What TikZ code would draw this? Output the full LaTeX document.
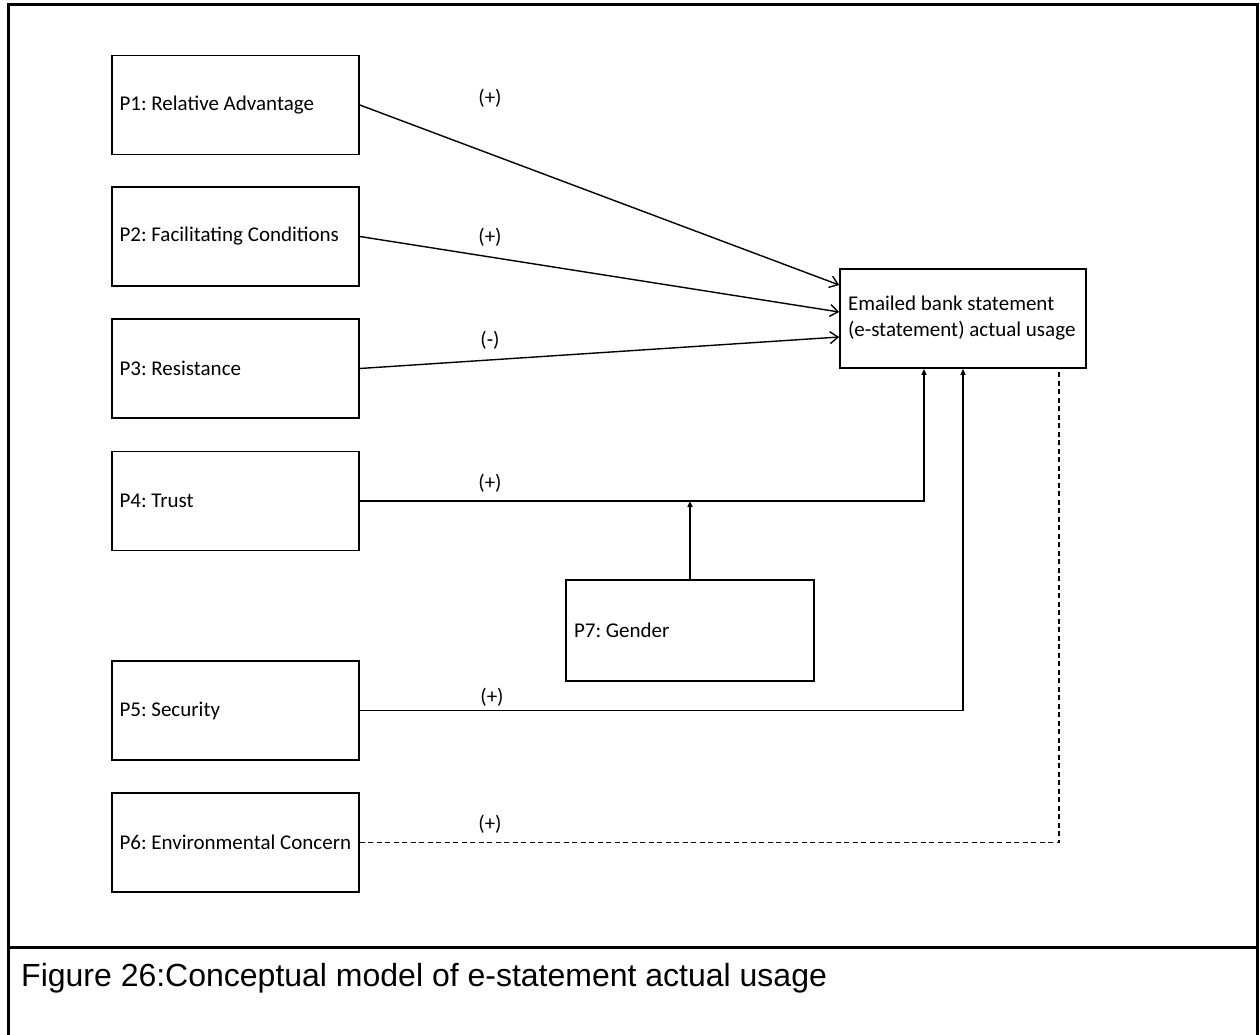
\documentclass[tikz,border=0pt]{standalone}
\usepackage{fontspec}
\setmainfont{Carlito}
\newfontfamily\capfont{Liberation Sans}
\usetikzlibrary{arrows.meta,calc}
\frenchspacing
% left-aligned single line of fixed width inside a box
\newcommand\boxline[2][232pt]{\makebox[#1][l]{#2}}
\begin{document}
\begin{tikzpicture}[x=1pt,y=-1pt,
  pbox/.style={draw, line width=1.7pt, minimum width=247pt, minimum height=99pt,
    inner xsep=7pt, align=left, font=\fontsize{21}{26}\selectfont},
  link/.style={line width=1.4pt},
  openhead/.style={link, -{Straight Barb[length=8pt,width=12pt,line width=1.4pt]}},
  solidhead/.style={link, -{Triangle[length=6pt,width=5pt]}},
  sign/.style={font=\fontsize{21}{24}\selectfont, inner sep=0pt},
  frame/.style={line width=3pt}]
  \useasboundingbox (0,0) rectangle (1260,1035);

  % outer frame and caption separator
  \draw[frame] (8,1035) -- (8,5) -- (1257.5,5) -- (1257.5,1035);
  \draw[frame] (8,947) -- (1257.5,947);

  % predictor boxes
  \node[pbox] (p1) at (235.5,105)   {\boxline{P1: Relative Advantage}};
  \node[pbox] (p2) at (235.5,236.5) {\boxline{P2: Facilitating Conditions}};
  \node[pbox] (p3) at (235.5,368.5) {\boxline{P3: Resistance}};
  \node[pbox] (p4) at (235.5,501)   {\boxline{P4: Trust}};
  \node[pbox] (p5) at (235.5,710.5) {\boxline{P5: Security}};
  \node[pbox] (p6) at (235.5,842.5) {\boxline{P6: Environmental Concern}};
  \node[pbox, minimum width=248pt, minimum height=101pt]
    (p7) at (690,630.5) {\boxline{P7: Gender}};

  % outcome box
  \node[pbox, minimum width=246pt, inner xsep=8pt]
    (t) at (963,318.5) {\boxline[230pt]{Emailed bank statement}\\\boxline[230pt]{(e-statement) actual usage}};

  % direct effects
  \draw[openhead] (p1.east) -- ($(t.west)+(0,-33.5)$);
  \draw[openhead] (p2.east) -- ($(t.west)+(0,-6.5)$);
  \draw[openhead] (p3.east) -- ($(t.west)+(0,18.5)$);
  \draw[solidhead] (p4.east) -| ($(t.south)+(-39,0)$);
  \draw[solidhead] (p5.east) -| (t.south);
  \draw[link, dash pattern=on 5pt off 3.5pt] (p6.east) -| ($(t.south)+(96,0)$);

  % moderator
  \draw[solidhead] (p7.north) -- (p7.north |- p4.east);

  % signs
  \node[sign] (s1) at (490,98) {(+)};
  \node[sign] (s2) at (490,237) {(+)};
  \node[sign] (s3) at (490,340) {(-)};
  \node[sign] (s4) at (490,483) {(+)};
  \node[sign] (s5) at (492,697) {(+)};
  \node[sign] (s6) at (490,824) {(+)};

  % caption
  \node[anchor=base west, inner sep=0pt, font=\capfont\fontsize{32}{38}\selectfont]
    (cap) at (21,986) {Figure 26:Conceptual model of e-statement actual usage};
\end{tikzpicture}
\end{document}
